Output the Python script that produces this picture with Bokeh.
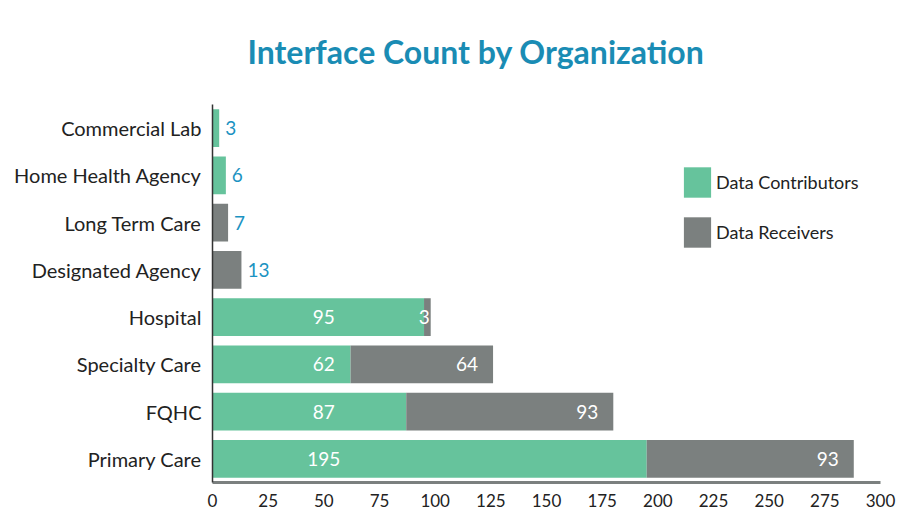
import numpy as np
from bokeh.plotting import figure
from bokeh.models import ColumnDataSource, FactorRange
from bokeh.core.properties import value
from bokeh.embed import file_html
from bokeh.resources import INLINE

# ---- data ----
title_text = "Interface Count by Organization"
organizations = ["Primary Care", "FQHC", "Specialty Care", "Hospital",
                 "Designated Agency", "Long Term Care", "Home Health Agency", "Commercial Lab"]
contributors = [195, 87, 62, 95, 0, 0, 6, 3]
receivers = [93, 93, 64, 3, 13, 7, 0, 0]
series_names = ["Data Contributors", "Data Receivers"]
x_ticks = [0, 25, 50, 75, 100, 125, 150, 175, 200, 225, 250, 275, 300]

GREEN = "#66c39c"
GRAY = "#7b807f"
BLUE = "#1b93c2"
FONT = "Lato"

c = np.array(contributors)
r = np.array(receivers)
tot = c + r

src = ColumnDataSource(dict(org=organizations, contrib=contributors, recv=receivers))

p = figure(width=900, height=519, y_range=FactorRange(factors=organizations),
           x_range=(0, 300), output_backend="svg", toolbar_location=None,
           min_border_left=212, min_border_right=20, min_border_top=103, min_border_bottom=37)

p.hbar_stack(["contrib", "recv"], y="org", height=0.8, color=[GREEN, GRAY],
             line_color=None, source=src, legend_label=series_names)

big = tot > 50
gl = ColumnDataSource(dict(x=[50] * int(big.sum()), y=[o for o, b in zip(organizations, big) if b],
                           t=[str(v) for v, b in zip(contributors, big) if b]))
p.text(x="x", y="y", text="t", source=gl, text_color="white", text_align="center",
       text_baseline="middle", text_font=value(FONT), text_font_size="19px")

rl = ColumnDataSource(dict(x=[int(v) for v, b in zip(tot, big) if b],
                           y=[o for o, b in zip(organizations, big) if b],
                           t=[str(v) for v, b in zip(receivers, big) if b],
                           off=[-15 if v > 10 else -1 for v, b in zip(receivers, big) if b]))
p.text(x="x", y="y", text="t", source=rl, text_color="white", text_align="right",
       text_baseline="middle", text_font=value(FONT), text_font_size="19px", x_offset="off")

sm = ~big
ol = ColumnDataSource(dict(x=[int(v) for v, b in zip(tot, sm) if b],
                           y=[o for o, b in zip(organizations, sm) if b],
                           t=[str(v) for v, b in zip(tot, sm) if b]))
p.text(x="x", y="y", text="t", source=ol, text_color=BLUE, text_align="left",
       text_baseline="middle", text_font=value(FONT), text_font_size="19px", x_offset=6)

p.title.text = title_text
p.title.text_font = FONT
p.title.text_font_size = "32px"
p.title.text_font_style = "bold"
p.title.text_color = "#1a8cb4"
p.title.align = "left"
p.title.vertical_align = "top"
p.title.offset = 35
p.title.standoff = 63

p.xaxis.ticker = x_ticks
p.xaxis.major_tick_line_color = None
p.xaxis.minor_tick_line_color = None
p.xaxis.axis_line_color = GRAY
p.xaxis.axis_line_width = 3
p.xaxis.major_label_text_font = FONT
p.xaxis.major_label_text_font_size = "17px"
p.xaxis.major_label_text_color = "#222222"
p.xaxis.major_label_standoff = 5

p.yaxis.major_tick_line_color = None
p.yaxis.minor_tick_line_color = None
p.yaxis.axis_line_color = "#333333"
p.yaxis.axis_line_width = 1.5
p.yaxis.major_label_text_font = FONT
p.yaxis.major_label_text_font_size = "20px"
p.yaxis.major_label_text_color = "#222222"
p.yaxis.major_label_standoff = 5

p.y_range.range_padding = 0
p.grid.visible = False
p.outline_line_color = None

lg = p.legend[0]
lg.location = (468, 231)
lg.padding = 0
lg.margin = 0
lg.spacing = 12
lg.glyph_width = 34
lg.glyph_height = 38
lg.label_text_font = FONT
lg.label_text_font_size = "18px"
lg.label_text_color = "#222222"
lg.border_line_color = None
lg.background_fill_alpha = 0
lg.label_standoff = 2

open("out.html", "w").write(file_html(p, INLINE))
